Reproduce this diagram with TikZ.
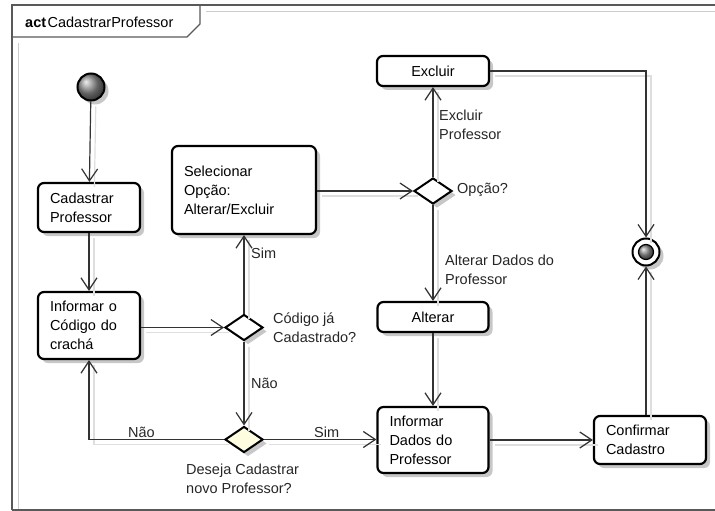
\documentclass[tikz,border=0pt]{standalone}
\usepackage{fontspec}
\setmainfont{Liberation Sans}
\usetikzlibrary{arrows.meta,shapes.geometric,shadows}

\tikzset{
  x=1pt, y=-1pt,
  every node/.style={font=\fontsize{14.5}{19}\selectfont},
  softshadow/.style={drop shadow={shadow xshift=4pt, shadow yshift=-4pt, opacity=0.22, fill=black}},
  action/.style={draw=black, line width=2.2pt, rounded corners=6pt, fill=white,
    inner xsep=12pt, inner ysep=0pt, align=left, softshadow},
  decision/.style={shape=diamond, draw=black, line width=2pt, fill=white,
    minimum width=38pt, minimum height=26pt, inner sep=0pt, softshadow},
  flow/.style={draw=black!80, line width=1.2pt,
    -{Straight Barb[length=12pt,width=16pt]},
    preaction={draw=black!13, line width=1.2pt, arrows=-,
      transform canvas={shift={(5pt,-5pt)}}}},
  lbl/.style={anchor=west, align=left, inner sep=0pt, text=black!85},
}

\begin{document}
\begin{tikzpicture}
\useasboundingbox (0,0) rectangle (715,511);

% activity frame and its name tab
\draw[black!20, line width=1pt] (18,510) -- (18,43);
\draw[black!20, line width=1pt] (206,12) -- (715,12);
\draw[black!65, line width=1.4pt] (12,510) -- (12,5) -- (716,5);
\draw[black!65, line width=1.4pt] (12,510) -- (716,510);
\draw[black!65, line width=1.4pt] (12,37) -- (187,37) -- (200,24) -- (200,5);
\node[anchor=west, inner sep=0pt] (title) at (25,22) {\textbf{act}\hspace{1.5pt}CadastrarProfessor};

% initial and final nodes
\node[circle, draw=black, line width=2pt, minimum size=27pt, inner sep=0pt,
      shading=ball, ball color=black!45, softshadow] (ini) at (91,87) {};
\node[circle, draw=black, line width=2pt, minimum size=27pt, inner sep=0pt,
      fill=white, softshadow] (fin) at (646,252) {};
\node[circle, draw=black, line width=1.2pt, minimum size=15pt, inner sep=0pt,
      shading=ball, ball color=black!45] (finc) at (fin) {};

% actions
\node[action, text width=78pt, minimum height=49pt] (cad) at (89,207.5) {Cadastrar\\Professor};
\node[action, text width=78pt, minimum height=67pt] (info) at (89,325.5) {Informar o\\Código do\\crachá};
\node[action, text width=120pt, minimum height=88pt] (sel) at (244,190) {Selecionar\\Opção:\\Alterar/Excluir};
\node[action, text width=88pt, minimum height=30pt, align=center] (exc) at (433,71) {Excluir};
\node[action, text width=87pt, minimum height=30pt, align=center] (alt) at (433,317) {Alterar};
\node[action, text width=87pt, minimum height=66pt] (dados) at (433,440) {Informar\\Dados do\\Professor};
\node[action, text width=88pt, minimum height=48pt] (conf) at (650,440) {Confirmar\\Cadastro};

% decisions
\node[decision] (cod) at (244,327.5) {};
\node[decision, fill=yellow!12] (des) at (244,439.5) {};
\node[decision] (opc) at (433,191) {};

% control flows
\draw[flow] (ini) -- (cad);
\draw[flow] (cad) -- (info);
\draw[flow] (info.east |- cod) -- (cod.west);
\draw[flow] (cod.north) -- (sel.south);
\draw[flow] (cod.south) -- (des.north);
\draw[flow] (des.west) -| (info.south);
\draw[flow] (des.east) -- (dados.west |- des);
\draw[flow] (sel.east |- opc) -- (opc.west);
\draw[flow] (opc.north) -- (exc.south);
\draw[flow] (opc.south) -- (alt.north);
\draw[flow] (alt.south) -- (dados.north);
\draw[flow] (dados.east) -- (conf.west);
\draw[flow] (exc.east) -| (fin.north);
\draw[flow] (fin |- conf.north) -- (fin.south);

% guards and decision names
\node[lbl] (gsim1) at (251,253) {Sim};
\node[lbl] (gnao1) at (251,383) {Não};
\node[lbl] (gsim2) at (314,432) {Sim};
\node[lbl] (gnao2) at (128,432) {Não};
\node[lbl] (lcod) at (273,328) {Código já\\Cadastrado?};
\node[lbl] (ldes) at (186,479) {Deseja Cadastrar\\novo Professor?};
\node[lbl] (lopc) at (457,190) {Opção?};
\node[lbl] (gexc) at (439,124.5) {Excluir\\Professor};
\node[lbl] (galt) at (445,270) {Alterar Dados do\\Professor};
\end{tikzpicture}
\end{document}
